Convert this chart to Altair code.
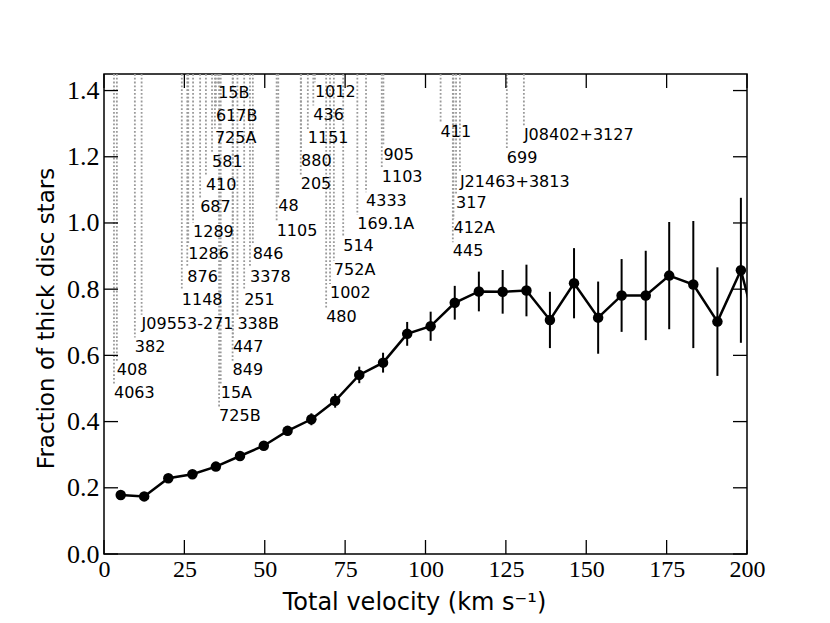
import altair as alt
import pandas as pd

# ---- binned fraction of thick disc stars ----
vel = [5.2, 12.5, 20.0, 27.5, 34.8, 42.3, 49.7, 57.1, 64.5, 71.9, 79.4, 86.8,
       94.3, 101.6, 109.1, 116.6, 124.0, 131.4, 138.7, 146.2, 153.7, 161.0,
       168.5, 175.8, 183.3, 190.8, 198.1, 205.6]
frac = [0.178, 0.174, 0.229, 0.241, 0.264, 0.296, 0.327, 0.372, 0.407, 0.463,
        0.541, 0.578, 0.665, 0.688, 0.759, 0.793, 0.792, 0.796, 0.707, 0.818,
        0.714, 0.781, 0.781, 0.841, 0.814, 0.702, 0.857, 0.58]
err = [0.010, 0.009, 0.009, 0.009, 0.010, 0.010, 0.011, 0.014, 0.018, 0.021,
       0.025, 0.030, 0.036, 0.044, 0.051, 0.060, 0.066, 0.078, 0.085, 0.106,
       0.109, 0.110, 0.135, 0.162, 0.192, 0.164, 0.219, 0.25]

# ---- individual star annotations ----
star_names = ["4063", "408", "382", "J09553-271", "1148", "876", "1286", "1289",
              "687", "410", "581", "725A", "617B", "15B", "725B", "15A", "849",
              "447", "338B", "251", "3378", "846", "1105", "48", "205", "880",
              "1151", "436", "1012", "480", "1002", "752A", "514", "169.1A",
              "4333", "1103", "905", "411", "445", "412A", "317", "J21463+3813",
              "699", "J08402+3127"]
star_vel = [3.1, 4.0, 9.6, 11.7, 24.2, 25.9, 26.2, 27.7, 29.9, 31.7, 33.6, 34.5,
            34.8, 35.5, 35.8, 36.3, 40.0, 40.1, 41.5, 43.6, 45.4, 46.3, 53.7,
            54.2, 61.2, 61.3, 63.4, 65.1, 65.6, 69.1, 70.3, 71.5, 74.4, 78.8,
            81.5, 86.4, 86.9, 104.7, 108.5, 108.7, 109.5, 110.7, 125.3, 130.6]
star_lab_y = [0.487, 0.556, 0.626, 0.695, 0.768, 0.837, 0.907, 0.973, 1.049,
              1.115, 1.185, 1.257, 1.324, 1.393, 0.417, 0.487, 0.556, 0.626,
              0.695, 0.768, 0.837, 0.907, 0.977, 1.050, 1.117, 1.188, 1.256,
              1.327, 1.397, 0.717, 0.788, 0.858, 0.929, 0.997, 1.065, 1.138,
              1.206, 1.276, 0.914, 0.984, 1.060, 1.125, 1.196, 1.266]

x_ticks = [0, 25, 50, 75, 100, 125, 150, 175, 200]
y_ticks = [0.0, 0.2, 0.4, 0.6, 0.8, 1.0, 1.2, 1.4]
x_domain = [0, 200]
y_domain = [0, 1.45]

W, H = 643, 480
TICK = 14

bins = pd.DataFrame({"v": vel, "f": frac, "e": err})
bins["lo"] = bins["f"] - bins["e"]
bins["hi"] = bins["f"] + bins["e"]

stars = pd.DataFrame({"v": star_vel, "name": star_names, "ly": star_lab_y})
stars["top"] = y_domain[1]
stars["end"] = stars["ly"] + 0.028

xt = pd.DataFrame({"v": x_ticks})
yt = pd.DataFrame({"f": y_ticks})

xs = alt.Scale(domain=x_domain, nice=False, zero=False)
ys = alt.Scale(domain=y_domain, nice=False, zero=False)

xaxis = alt.Axis(values=x_ticks, tickSize=0, domain=False, grid=False,
                 labelFont="Liberation Serif", labelFontSize=24, labelPadding=3,
                 labelColor="black", labelFlush=False, labelOverlap=False,
                 title="Total velocity (km s⁻¹)", titleFont="DejaVu Sans",
                 titleFontSize=24, titleFontWeight="normal", titleColor="black",
                 titleX=310, titleY=48, titleBaseline="middle", titleAlign="center")
yaxis = alt.Axis(values=y_ticks, tickSize=0, domain=False, grid=False,
                 format=".1f", labelFont="Liberation Serif", labelFontSize=26,
                 labelPadding=5, labelColor="black", labelFlush=False,
                 labelOverlap=False, title="Fraction of thick disc stars",
                 titleFont="DejaVu Sans", titleFontSize=23,
                 titleFontWeight="normal", titleColor="black", titleAngle=270,
                 titleX=-58, titleY=244, titleBaseline="middle", titleAlign="center")


def X(field):
    return alt.X(field, type="quantitative", scale=xs, axis=xaxis)


def Y(field):
    return alt.Y(field, type="quantitative", scale=ys, axis=yaxis)


guides = alt.Chart(stars).mark_rule(color="#9a9a9a", strokeWidth=1.8,
                                    strokeDash=[1.8, 2]).encode(
    x=X("v"), y=Y("top"), y2="end")

labels = alt.Chart(stars).mark_text(align="left", baseline="middle",
                                    font="DejaVu Sans", fontSize=16,
                                    color="black").encode(
    x=X("v"), y=Y("ly"), text="name:N")

ebars = alt.Chart(bins).mark_rule(color="black", strokeWidth=2, clip=True).encode(
    x=X("v"), y=Y("lo"), y2="hi")

line = alt.Chart(bins).mark_line(color="black", strokeWidth=2.5, clip=True).encode(
    x=X("v"), y=Y("f"))

pts = alt.Chart(bins).mark_circle(color="black", size=110, opacity=1,
                                  clip=True).encode(x=X("v"), y=Y("f"))

tick_b = alt.Chart(xt).mark_rule(color="black", strokeWidth=1.3).encode(
    x=X("v"), y=alt.value(H), y2=alt.value(H - TICK))
tick_t = alt.Chart(xt).mark_rule(color="black", strokeWidth=1.3).encode(
    x=X("v"), y=alt.value(0), y2=alt.value(TICK))
tick_l = alt.Chart(yt).mark_rule(color="black", strokeWidth=1.3).encode(
    y=Y("f"), x=alt.value(0), x2=alt.value(TICK))
tick_r = alt.Chart(yt).mark_rule(color="black", strokeWidth=1.3).encode(
    y=Y("f"), x=alt.value(W), x2=alt.value(W - TICK))

chart = alt.layer(guides, labels, ebars, line, pts,
                  tick_b, tick_t, tick_l, tick_r).properties(
    width=W, height=H,
    padding={"left": 96, "top": 66, "right": 60, "bottom": 68},
    autosize=alt.AutoSizeParams(type="none"),
    background="white",
).configure_view(stroke="black", strokeWidth=1.5)

chart.save("out.html", embed_options={"renderer": "svg", "actions": False})
